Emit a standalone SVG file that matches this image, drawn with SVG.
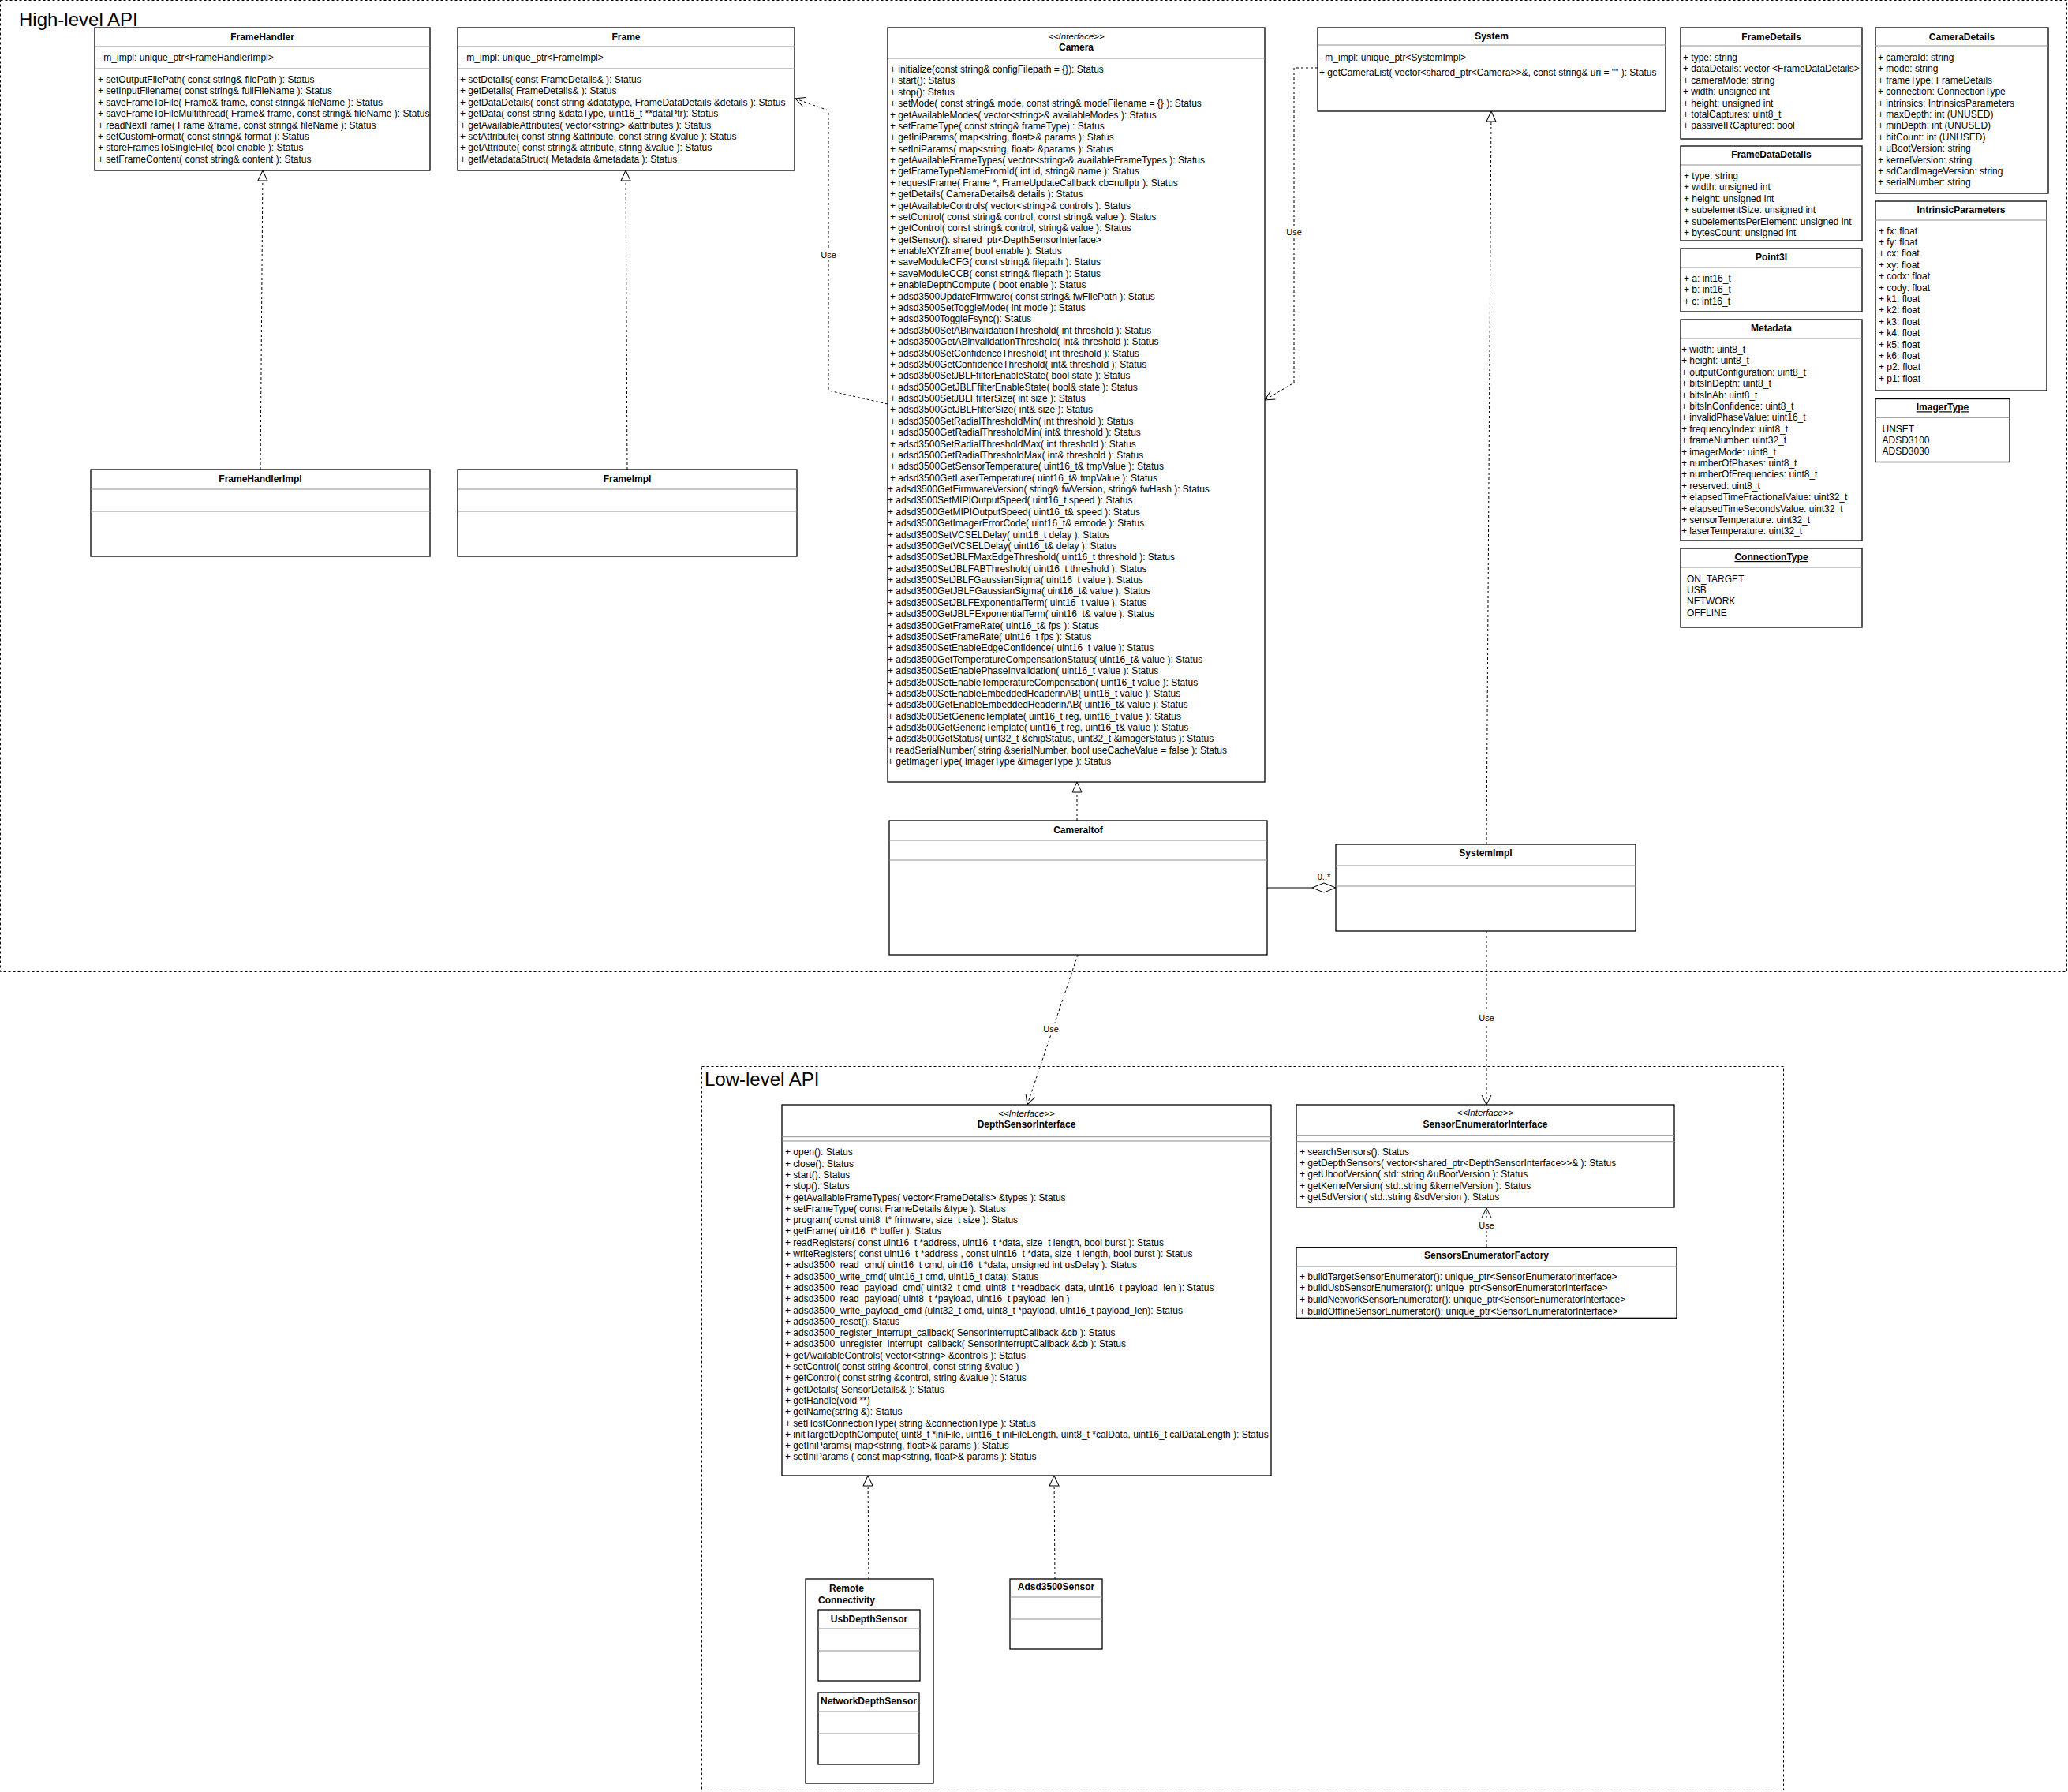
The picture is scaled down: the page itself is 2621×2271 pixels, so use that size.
<svg xmlns="http://www.w3.org/2000/svg" width="2621" height="2271" viewBox="0 0 2621 2271">
<style>
.bg{fill:#fff}
.box{fill:#fff;stroke:#000;stroke-width:1.3}
.sep{stroke:#8f8f8f;stroke-width:1}
.cont{fill:none;stroke:#000;stroke-width:1;stroke-dasharray:3 3}
.t{font-family:"Liberation Sans",Arial,sans-serif;font-size:12px;fill:#000}
.ti{font-family:"Liberation Sans",Arial,sans-serif;font-size:12px;font-weight:bold;text-anchor:middle;fill:#000}
.st{font-family:"Liberation Sans",Arial,sans-serif;font-size:11.5px;font-style:italic;text-anchor:middle;fill:#000}
.big{font-family:"Liberation Sans",Arial,sans-serif;font-size:24px;fill:#000}
.conn{fill:none;stroke:#000;stroke-width:1;stroke-dasharray:3 3}
.solid{fill:none;stroke:#000;stroke-width:1}
.lbl{font-family:"Liberation Sans",Arial,sans-serif;font-size:11px;text-anchor:middle;fill:#000}
.u{text-decoration:underline}
</style>
<defs>
<marker id="tri" markerWidth="16" markerHeight="16" refX="14" refY="7" orient="auto" markerUnits="userSpaceOnUse"><path d="M1,1 L14,7 L1,13 Z" fill="#fff" stroke="#000" stroke-width="1"/></marker>
<marker id="open" markerWidth="16" markerHeight="16" refX="13" refY="7" orient="auto" markerUnits="userSpaceOnUse"><path d="M1,1 L13,7 L1,13" fill="none" stroke="#000" stroke-width="1"/></marker>
</defs>
<rect class="bg" x="0" y="0" width="2621" height="2271"/>

<g id="high-level-api">
<rect class="cont" x="0.5" y="0.5" width="2619" height="1231"/>
<text class="big" x="24" y="33">High-level API</text>
</g>
<g id="low-level-api">
<rect class="cont" x="889.5" y="1351.5" width="1371" height="917"/>
<text class="big" x="893" y="1376">Low-level API</text>
</g>

<g id="connectors">
<path class="conn" d="M330,595 L333,216" marker-end="url(#tri)"/>
<path class="conn" d="M795,595 L793,216" marker-end="url(#tri)"/>
<path class="conn" d="M1125,512 L1050,495 L1050,140 L1008,125" marker-end="url(#open)"/>
<rect class="bg" x="1039" y="316" width="22" height="14"/>
<text class="lbl" x="1050" y="327">Use</text>
<path class="conn" d="M1670,86 L1640,86 L1640,485 L1603,507" marker-end="url(#open)"/>
<rect class="bg" x="1629" y="287" width="22" height="14"/>
<text class="lbl" x="1640" y="298">Use</text>
<path class="conn" d="M1365,1040 L1365,991" marker-end="url(#tri)"/>
<path class="conn" d="M1884,1070 L1890,141" marker-end="url(#tri)"/>
<path class="solid" d="M1606,1125 L1663,1125"/>
<polygon points="1663,1125 1678,1119 1693,1125 1678,1131" fill="#fff" stroke="#000" stroke-width="1"/>
<text class="lbl" x="1678" y="1115">0..*</text>
<path class="conn" d="M1366,1210 L1302,1400" marker-end="url(#open)"/>
<rect class="bg" x="1321" y="1297" width="22" height="14"/>
<text class="lbl" x="1332" y="1308">Use</text>
<path class="conn" d="M1884,1180 L1884,1400" marker-end="url(#open)"/>
<rect class="bg" x="1873" y="1283" width="22" height="14"/>
<text class="lbl" x="1884" y="1294">Use</text>
<path class="conn" d="M1884,1580 L1884,1531" marker-end="url(#open)"/>
<rect class="bg" x="1873" y="1546" width="22" height="14"/>
<text class="lbl" x="1884" y="1557">Use</text>
<path class="conn" d="M1101,2001 L1100,1870" marker-end="url(#tri)"/>
<path class="conn" d="M1337,2001 L1336,1870" marker-end="url(#tri)"/>
</g>

<g id="FrameHandler">
<rect class="box" x="120" y="35" width="425" height="181"/>
<text class="ti" x="332.5" y="51">FrameHandler</text>
<line class="sep" x1="120" y1="59" x2="545" y2="59"/>
<text class="t" x="124" y="77">- m_impl: unique_ptr&lt;FrameHandlerImpl&gt;</text>
<line class="sep" x1="120" y1="87" x2="545" y2="87"/>
<text class="t" x="124" y="105"><tspan x="124" dy="0">+ setOutputFilePath( const string&amp; filePath ): Status</tspan><tspan x="124" dy="14.4">+ setInputFilename( const string&amp; fullFileName ): Status</tspan><tspan x="124" dy="14.4">+ saveFrameToFile( Frame&amp; frame, const string&amp; fileName ): Status</tspan><tspan x="124" dy="14.4">+ saveFrameToFileMultithread( Frame&amp; frame, const string&amp; fileName ): Status</tspan><tspan x="124" dy="14.4">+ readNextFrame( Frame &amp;frame, const string&amp; fileName ): Status</tspan><tspan x="124" dy="14.4">+ setCustomFormat( const string&amp; format ): Status</tspan><tspan x="124" dy="14.4">+ storeFramesToSingleFile( bool enable ): Status</tspan><tspan x="124" dy="14.4">+ setFrameContent( const string&amp; content ): Status</tspan></text>
</g>

<g id="Frame">
<rect class="box" x="580" y="35" width="427" height="181"/>
<text class="ti" x="793.5" y="51">Frame</text>
<line class="sep" x1="580" y1="59" x2="1007" y2="59"/>
<text class="t" x="584" y="77">- m_impl: unique_ptr&lt;FrameImpl&gt;</text>
<line class="sep" x1="580" y1="87" x2="1007" y2="87"/>
<text class="t" x="583" y="105"><tspan x="583" dy="0">+ setDetails( const FrameDetails&amp; ): Status</tspan><tspan x="583" dy="14.4">+ getDetails( FrameDetails&amp; ): Status</tspan><tspan x="583" dy="14.4">+ getDataDetails( const string &amp;datatype, FrameDataDetails &amp;details ): Status</tspan><tspan x="583" dy="14.4">+ getData( const string &amp;dataType, uint16_t **dataPtr): Status</tspan><tspan x="583" dy="14.4">+ getAvailableAttributes( vector&lt;string&gt; &amp;attributes ): Status</tspan><tspan x="583" dy="14.4">+ setAttribute( const string &amp;attribute, const string &amp;value ): Status</tspan><tspan x="583" dy="14.4">+ getAttribute( const string&amp; attribute, string &amp;value ): Status</tspan><tspan x="583" dy="14.4">+ getMetadataStruct( Metadata &amp;metadata ): Status</tspan></text>
</g>

<g id="FrameHandlerImpl">
<rect class="box" x="115" y="595" width="430" height="110"/>
<text class="ti" x="330" y="611">FrameHandlerImpl</text>
<line class="sep" x1="115" y1="620" x2="545" y2="620"/>
<line class="sep" x1="115" y1="648" x2="545" y2="648"/>
</g>

<g id="FrameImpl">
<rect class="box" x="580" y="595" width="430" height="110"/>
<text class="ti" x="795" y="611">FrameImpl</text>
<line class="sep" x1="580" y1="620" x2="1010" y2="620"/>
<line class="sep" x1="580" y1="648" x2="1010" y2="648"/>
</g>

<g id="Camera">
<rect class="box" x="1125" y="35" width="478" height="956"/>
<text class="st" x="1364" y="49.7">&lt;&lt;Interface&gt;&gt;</text>
<text class="ti" x="1364" y="64.3">Camera</text>
<line class="sep" x1="1125" y1="74" x2="1603" y2="74"/>
<text class="t" x="1128" y="92"><tspan x="1128" dy="0">+ initialize(const string&amp; configFilepath = {}): Status</tspan><tspan x="1128" dy="14.38">+ start(): Status</tspan><tspan x="1128" dy="14.38">+ stop(): Status</tspan><tspan x="1128" dy="14.38">+ setMode( const string&amp; mode, const string&amp; modeFilename = {} ): Status</tspan><tspan x="1128" dy="14.38">+ getAvailableModes( vector&lt;string&gt;&amp; availableModes ): Status</tspan><tspan x="1128" dy="14.38">+ setFrameType( const string&amp; frameType) : Status</tspan><tspan x="1128" dy="14.38">+ getIniParams( map&lt;string, float&gt;&amp; params ): Status</tspan><tspan x="1128" dy="14.38">+ setIniParams( map&lt;string, float&gt; &amp;params ): Status</tspan><tspan x="1128" dy="14.38">+ getAvailableFrameTypes( vector&lt;string&gt;&amp; availableFrameTypes ): Status</tspan><tspan x="1128" dy="14.38">+ getFrameTypeNameFromId( int id, string&amp; name ): Status</tspan><tspan x="1128" dy="14.38">+ requestFrame( Frame *, FrameUpdateCallback cb=nullptr ): Status</tspan><tspan x="1128" dy="14.38">+ getDetails( CameraDetails&amp; details ): Status</tspan><tspan x="1128" dy="14.38">+ getAvailableControls( vector&lt;string&gt;&amp; controls ): Status</tspan><tspan x="1128" dy="14.38">+ setControl( const string&amp; control, const string&amp; value ): Status</tspan><tspan x="1128" dy="14.38">+ getControl( const string&amp; control, string&amp; value ): Status</tspan><tspan x="1128" dy="14.38">+ getSensor(): shared_ptr&lt;DepthSensorInterface&gt;</tspan><tspan x="1128" dy="14.38">+ enableXYZframe( bool enable ): Status</tspan><tspan x="1128" dy="14.38">+ saveModuleCFG( const string&amp; filepath ): Status</tspan><tspan x="1128" dy="14.38">+ saveModuleCCB( const string&amp; filepath ): Status</tspan><tspan x="1128" dy="14.38">+ enableDepthCompute ( boot enable ): Status</tspan><tspan x="1128" dy="14.38">+ adsd3500UpdateFirmware( const string&amp; fwFilePath ): Status</tspan><tspan x="1128" dy="14.38">+ adsd3500SetToggleMode( int mode ): Status</tspan><tspan x="1128" dy="14.38">+ adsd3500ToggleFsync(): Status</tspan><tspan x="1128" dy="14.38">+ adsd3500SetABinvalidationThreshold( int threshold ): Status</tspan><tspan x="1128" dy="14.38">+ adsd3500GetABinvalidationThreshold( int&amp; threshold ): Status</tspan><tspan x="1128" dy="14.38">+ adsd3500SetConfidenceThreshold( int threshold ): Status</tspan><tspan x="1128" dy="14.38">+ adsd3500GetConfidenceThreshold( int&amp; threshold ): Status</tspan><tspan x="1128" dy="14.38">+ adsd3500SetJBLFfilterEnableState( bool state ): Status</tspan><tspan x="1128" dy="14.38">+ adsd3500GetJBLFfilterEnableState( bool&amp; state ): Status</tspan><tspan x="1128" dy="14.38">+ adsd3500SetJBLFfilterSize( int size ): Status</tspan><tspan x="1128" dy="14.38">+ adsd3500GetJBLFfilterSize( int&amp; size ): Status</tspan><tspan x="1128" dy="14.38">+ adsd3500SetRadialThresholdMin( int threshold ): Status</tspan><tspan x="1128" dy="14.38">+ adsd3500GetRadialThresholdMin( int&amp; threshold ): Status</tspan><tspan x="1128" dy="14.38">+ adsd3500SetRadialThresholdMax( int threshold ): Status</tspan><tspan x="1128" dy="14.38">+ adsd3500GetRadialThresholdMax( int&amp; threshold ): Status</tspan><tspan x="1128" dy="14.38">+ adsd3500GetSensorTemperature( uint16_t&amp; tmpValue ): Status</tspan><tspan x="1128" dy="14.38">+ adsd3500GetLaserTemperature( uint16_t&amp; tmpValue ): Status</tspan><tspan x="1125" dy="14.38">+ adsd3500GetFirmwareVersion( string&amp; fwVersion, string&amp; fwHash ): Status</tspan><tspan x="1125" dy="14.38">+ adsd3500SetMIPIOutputSpeed( uint16_t speed ): Status</tspan><tspan x="1125" dy="14.38">+ adsd3500GetMIPIOutputSpeed( uint16_t&amp; speed ): Status</tspan><tspan x="1125" dy="14.38">+ adsd3500GetImagerErrorCode( uint16_t&amp; errcode ): Status</tspan><tspan x="1125" dy="14.38">+ adsd3500SetVCSELDelay( uint16_t delay ): Status</tspan><tspan x="1125" dy="14.38">+ adsd3500GetVCSELDelay( uint16_t&amp; delay ): Status</tspan><tspan x="1125" dy="14.38">+ adsd3500SetJBLFMaxEdgeThreshold( uint16_t threshold ): Status</tspan><tspan x="1125" dy="14.38">+ adsd3500SetJBLFABThreshold( uint16_t threshold ): Status</tspan><tspan x="1125" dy="14.38">+ adsd3500SetJBLFGaussianSigma( uint16_t value ): Status</tspan><tspan x="1125" dy="14.38">+ adsd3500GetJBLFGaussianSigma( uint16_t&amp; value ): Status</tspan><tspan x="1125" dy="14.38">+ adsd3500SetJBLFExponentialTerm( uint16_t value ): Status</tspan><tspan x="1125" dy="14.38">+ adsd3500GetJBLFExponentialTerm( uint16_t&amp; value ): Status</tspan><tspan x="1125" dy="14.38">+ adsd3500GetFrameRate( uint16_t&amp; fps ): Status</tspan><tspan x="1125" dy="14.38">+ adsd3500SetFrameRate( uint16_t fps ): Status</tspan><tspan x="1125" dy="14.38">+ adsd3500SetEnableEdgeConfidence( uint16_t value ): Status</tspan><tspan x="1125" dy="14.38">+ adsd3500GetTemperatureCompensationStatus( uint16_t&amp; value ): Status</tspan><tspan x="1125" dy="14.38">+ adsd3500SetEnablePhaseInvalidation( uint16_t value ): Status</tspan><tspan x="1125" dy="14.38">+ adsd3500SetEnableTemperatureCompensation( uint16_t value ): Status</tspan><tspan x="1125" dy="14.38">+ adsd3500SetEnableEmbeddedHeaderinAB( uint16_t value ): Status</tspan><tspan x="1125" dy="14.38">+ adsd3500GetEnableEmbeddedHeaderinAB( uint16_t&amp; value ): Status</tspan><tspan x="1125" dy="14.38">+ adsd3500SetGenericTemplate( uint16_t reg, uint16_t value ): Status</tspan><tspan x="1125" dy="14.38">+ adsd3500GetGenericTemplate( uint16_t reg, uint16_t&amp; value ): Status</tspan><tspan x="1125" dy="14.38">+ adsd3500GetStatus( uint32_t &amp;chipStatus, uint32_t &amp;imagerStatus ): Status</tspan><tspan x="1125" dy="14.38">+ readSerialNumber( string &amp;serialNumber, bool useCacheValue = false ): Status</tspan><tspan x="1125" dy="14.38">+ getImagerType( ImagerType &amp;imagerType ): Status</tspan></text>
</g>

<g id="System">
<rect class="box" x="1670" y="35" width="441" height="106"/>
<text class="ti" x="1890.5" y="50.3">System</text>
<line class="sep" x1="1670" y1="57" x2="2111" y2="57"/>
<text class="t" x="1672" y="77">- m_impl: unique_ptr&lt;SystemImpl&gt;</text>
<text class="t" x="1672" y="96">+ getCameraList( vector&lt;shared_ptr&lt;Camera&gt;&gt;&amp;, const string&amp; uri = "" ): Status</text>
</g>

<g id="FrameDetails">
<rect class="box" x="2130" y="35" width="230" height="141"/>
<text class="ti" x="2245" y="50.8">FrameDetails</text>
<line class="sep" x1="2130" y1="58" x2="2360" y2="58"/>
<text class="t" x="2133" y="77"><tspan x="2133" dy="0">+ type: string</tspan><tspan x="2133" dy="14.4">+ dataDetails: vector &lt;FrameDataDetails&gt;</tspan><tspan x="2133" dy="14.4">+ cameraMode: string</tspan><tspan x="2133" dy="14.4">+ width: unsigned int</tspan><tspan x="2133" dy="14.4">+ height: unsigned int</tspan><tspan x="2133" dy="14.4">+ totalCaptures: uint8_t</tspan><tspan x="2133" dy="14.4">+ passiveIRCaptured: bool</tspan></text>
</g>

<g id="CameraDetails">
<rect class="box" x="2377" y="35" width="219" height="210"/>
<text class="ti" x="2486.5" y="50.8">CameraDetails</text>
<line class="sep" x1="2377" y1="58" x2="2596" y2="58"/>
<text class="t" x="2380" y="77"><tspan x="2380" dy="0">+ cameraId: string</tspan><tspan x="2380" dy="14.4">+ mode: string</tspan><tspan x="2380" dy="14.4">+ frameType: FrameDetails</tspan><tspan x="2380" dy="14.4">+ connection: ConnectionType</tspan><tspan x="2380" dy="14.4">+ intrinsics: IntrinsicsParameters</tspan><tspan x="2380" dy="14.4">+ maxDepth: int (UNUSED)</tspan><tspan x="2380" dy="14.4">+ minDepth: int (UNUSED)</tspan><tspan x="2380" dy="14.4">+ bitCount: int (UNUSED)</tspan><tspan x="2380" dy="14.4">+ uBootVersion: string</tspan><tspan x="2380" dy="14.4">+ kernelVersion: string</tspan><tspan x="2380" dy="14.4">+ sdCardImageVersion: string</tspan><tspan x="2380" dy="14.4">+ serialNumber: string</tspan></text>
</g>

<g id="FrameDataDetails">
<rect class="box" x="2130" y="185" width="230" height="120"/>
<text class="ti" x="2245" y="200">FrameDataDetails</text>
<line class="sep" x1="2130" y1="209" x2="2360" y2="209"/>
<text class="t" x="2134" y="227"><tspan x="2134" dy="0">+ type: string</tspan><tspan x="2134" dy="14.4">+ width: unsigned int</tspan><tspan x="2134" dy="14.4">+ height: unsigned int</tspan><tspan x="2134" dy="14.4">+ subelementSize: unsigned int</tspan><tspan x="2134" dy="14.4">+ subelementsPerElement: unsigned int</tspan><tspan x="2134" dy="14.4">+ bytesCount: unsigned int</tspan></text>
</g>

<g id="Point3I">
<rect class="box" x="2130" y="315" width="230" height="80"/>
<text class="ti" x="2245" y="330">Point3I</text>
<line class="sep" x1="2130" y1="339" x2="2360" y2="339"/>
<text class="t" x="2134" y="357"><tspan x="2134" dy="0">+ a: int16_t</tspan><tspan x="2134" dy="14.4">+ b: int16_t</tspan><tspan x="2134" dy="14.4">+ c: int16_t</tspan></text>
</g>

<g id="Metadata">
<rect class="box" x="2130" y="405" width="230" height="280"/>
<text class="ti" x="2245" y="420">Metadata</text>
<line class="sep" x1="2130" y1="429" x2="2360" y2="429"/>
<text class="t" x="2131" y="447"><tspan x="2131" dy="0">+ width: uint8_t</tspan><tspan x="2131" dy="14.4">+ height: uint8_t</tspan><tspan x="2131" dy="14.4">+ outputConfiguration: uint8_t</tspan><tspan x="2131" dy="14.4">+ bitsInDepth: uint8_t</tspan><tspan x="2131" dy="14.4">+ bitsInAb: uint8_t</tspan><tspan x="2131" dy="14.4">+ bitsInConfidence: uint8_t</tspan><tspan x="2131" dy="14.4">+ invalidPhaseValue: uint16_t</tspan><tspan x="2131" dy="14.4">+ frequencyIndex: uint8_t</tspan><tspan x="2131" dy="14.4">+ frameNumber: uint32_t</tspan><tspan x="2131" dy="14.4">+ imagerMode: uint8_t</tspan><tspan x="2131" dy="14.4">+ numberOfPhases: uint8_t</tspan><tspan x="2131" dy="14.4">+ numberOfFrequencies: uint8_t</tspan><tspan x="2131" dy="14.4">+ reserved: uint8_t</tspan><tspan x="2131" dy="14.4">+ elapsedTimeFractionalValue: uint32_t</tspan><tspan x="2131" dy="14.4">+ elapsedTimeSecondsValue: uint32_t</tspan><tspan x="2131" dy="14.4">+ sensorTemperature: uint32_t</tspan><tspan x="2131" dy="14.4">+ laserTemperature: uint32_t</tspan></text>
</g>

<g id="ConnectionType">
<rect class="box" x="2130" y="695" width="230" height="100"/>
<text class="ti u" x="2245" y="710">ConnectionType</text>
<line class="sep" x1="2130" y1="719" x2="2360" y2="719"/>
<text class="t" x="2138" y="737.6"><tspan x="2138" dy="0">ON_TARGET</tspan><tspan x="2138" dy="14.4">USB</tspan><tspan x="2138" dy="14.4">NETWORK</tspan><tspan x="2138" dy="14.4">OFFLINE</tspan></text>
</g>

<g id="IntrinsicParameters">
<rect class="box" x="2377" y="255" width="217" height="240"/>
<text class="ti" x="2485.5" y="270">IntrinsicParameters</text>
<line class="sep" x1="2377" y1="279" x2="2594" y2="279"/>
<text class="t" x="2381" y="296.6"><tspan x="2381" dy="0">+ fx: float</tspan><tspan x="2381" dy="14.4">+ fy: float</tspan><tspan x="2381" dy="14.4">+ cx: float</tspan><tspan x="2381" dy="14.4">+ xy: float</tspan><tspan x="2381" dy="14.4">+ codx: float</tspan><tspan x="2381" dy="14.4">+ cody: float</tspan><tspan x="2381" dy="14.4">+ k1: float</tspan><tspan x="2381" dy="14.4">+ k2: float</tspan><tspan x="2381" dy="14.4">+ k3: float</tspan><tspan x="2381" dy="14.4">+ k4: float</tspan><tspan x="2381" dy="14.4">+ k5: float</tspan><tspan x="2381" dy="14.4">+ k6: float</tspan><tspan x="2381" dy="14.4">+ p2: float</tspan><tspan x="2381" dy="14.4">+ p1: float</tspan></text>
</g>

<g id="ImagerType">
<rect class="box" x="2377" y="505.5" width="170" height="80"/>
<text class="ti u" x="2462" y="520.3">ImagerType</text>
<line class="sep" x1="2377" y1="529.3" x2="2547" y2="529.3"/>
<text class="t" x="2385.5" y="547.6"><tspan x="2385.5" dy="0">UNSET</tspan><tspan x="2385.5" dy="14.4">ADSD3100</tspan><tspan x="2385.5" dy="14.4">ADSD3030</tspan></text>
</g>

<g id="CameraItof">
<rect class="box" x="1127" y="1040" width="479" height="170"/>
<text class="ti" x="1366.5" y="1056">CameraItof</text>
<line class="sep" x1="1127" y1="1065" x2="1606" y2="1065"/>
<line class="sep" x1="1127" y1="1090" x2="1606" y2="1090"/>
</g>

<g id="SystemImpl">
<rect class="box" x="1693" y="1070" width="380" height="110"/>
<text class="ti" x="1883" y="1085">SystemImpl</text>
<line class="sep" x1="1693" y1="1097" x2="2073" y2="1097"/>
<line class="sep" x1="1693" y1="1123" x2="2073" y2="1123"/>
</g>

<g id="DepthSensorInterface">
<rect class="box" x="991" y="1400" width="620" height="470"/>
<text class="st" x="1301" y="1415">&lt;&lt;Interface&gt;&gt;</text>
<text class="ti" x="1301" y="1429.3">DepthSensorInterface</text>
<line class="sep" x1="991" y1="1440.7" x2="1611" y2="1440.7"/>
<line class="sep" x1="991" y1="1446" x2="1611" y2="1446"/>
<text class="t" x="995" y="1464.3"><tspan x="995" dy="0">+ open(): Status</tspan><tspan x="995" dy="14.3">+ close(): Status</tspan><tspan x="995" dy="14.3">+ start(): Status</tspan><tspan x="995" dy="14.3">+ stop(): Status</tspan><tspan x="995" dy="14.3">+ getAvailableFrameTypes( vector&lt;FrameDetails&gt; &amp;types ): Status</tspan><tspan x="995" dy="14.3">+ setFrameType( const FrameDetails &amp;type ): Status</tspan><tspan x="995" dy="14.3">+ program( const uint8_t* frimware, size_t size ): Status</tspan><tspan x="995" dy="14.3">+ getFrame( uint16_t* buffer ): Status</tspan><tspan x="995" dy="14.3">+ readRegisters( const uint16_t *address, uint16_t *data, size_t length, bool burst ): Status</tspan><tspan x="995" dy="14.3">+ writeRegisters( const uint16_t *address , const uint16_t *data, size_t length, bool burst ): Status</tspan><tspan x="995" dy="14.3">+ adsd3500_read_cmd( uint16_t cmd, uint16_t *data, unsigned int usDelay ): Status</tspan><tspan x="995" dy="14.3">+ adsd3500_write_cmd( uint16_t cmd, uint16_t data): Status</tspan><tspan x="995" dy="14.3">+ adsd3500_read_payload_cmd( uint32_t cmd, uint8_t *readback_data, uint16_t payload_len ): Status</tspan><tspan x="995" dy="14.3">+ adsd3500_read_payload( uint8_t *payload, uint16_t payload_len )</tspan><tspan x="995" dy="14.3">+ adsd3500_write_payload_cmd (uint32_t cmd, uint8_t *payload, uint16_t payload_len): Status</tspan><tspan x="995" dy="14.3">+ adsd3500_reset(): Status</tspan><tspan x="995" dy="14.3">+ adsd3500_register_interrupt_callback( SensorInterruptCallback &amp;cb ): Status</tspan><tspan x="995" dy="14.3">+ adsd3500_unregister_interrupt_callback( SensorInterruptCallback &amp;cb ): Status</tspan><tspan x="995" dy="14.3">+ getAvailableControls( vector&lt;string&gt; &amp;controls ): Status</tspan><tspan x="995" dy="14.3">+ setControl( const string &amp;control, const string &amp;value )</tspan><tspan x="995" dy="14.3">+ getControl( const string &amp;control, string &amp;value ): Status</tspan><tspan x="995" dy="14.3">+ getDetails( SensorDetails&amp; ): Status</tspan><tspan x="995" dy="14.3">+ getHandle(void **)</tspan><tspan x="995" dy="14.3">+ getName(string &amp;): Status</tspan><tspan x="995" dy="14.3">+ setHostConnectionType( string &amp;connectionType ): Status</tspan><tspan x="995" dy="14.3">+ initTargetDepthCompute( uint8_t *iniFile, uint16_t iniFileLength, uint8_t *calData, uint16_t calDataLength ): Status</tspan><tspan x="995" dy="14.3">+ getIniParams( map&lt;string, float&gt;&amp; params ): Status</tspan><tspan x="995" dy="14.3">+ setIniParams ( const map&lt;string, float&gt;&amp; params ): Status</tspan></text>
</g>

<g id="SensorEnumeratorInterface">
<rect class="box" x="1643" y="1400" width="479" height="130"/>
<text class="st" x="1882.5" y="1414.3">&lt;&lt;Interface&gt;&gt;</text>
<text class="ti" x="1882.5" y="1429.3">SensorEnumeratorInterface</text>
<line class="sep" x1="1643" y1="1439.3" x2="2122" y2="1439.3"/>
<line class="sep" x1="1643" y1="1446.7" x2="2122" y2="1446.7"/>
<text class="t" x="1647" y="1463.6"><tspan x="1647" dy="0">+ searchSensors(): Status</tspan><tspan x="1647" dy="14.35">+ getDepthSensors( vector&lt;shared_ptr&lt;DepthSensorInterface&gt;&gt;&amp; ): Status</tspan><tspan x="1647" dy="14.35">+ getUbootVersion( std::string &amp;uBootVersion ): Status</tspan><tspan x="1647" dy="14.35">+ getKernelVersion( std::string &amp;kernelVersion ): Status</tspan><tspan x="1647" dy="14.35">+ getSdVersion( std::string &amp;sdVersion ): Status</tspan></text>
</g>

<g id="SensorsEnumeratorFactory">
<rect class="box" x="1643" y="1580.7" width="482" height="89.6"/>
<text class="ti" x="1884" y="1595">SensorsEnumeratorFactory</text>
<line class="sep" x1="1643" y1="1605" x2="2125" y2="1605"/>
<text class="t" x="1647" y="1621.6"><tspan x="1647" dy="0">+ buildTargetSensorEnumerator(): unique_ptr&lt;SensorEnumeratorInterface&gt;</tspan><tspan x="1647" dy="14.7">+ buildUsbSensorEnumerator(): unique_ptr&lt;SensorEnumeratorInterface&gt;</tspan><tspan x="1647" dy="14.7">+ buildNetworkSensorEnumerator(): unique_ptr&lt;SensorEnumeratorInterface&gt;</tspan><tspan x="1647" dy="14.7">+ buildOfflineSensorEnumerator(): unique_ptr&lt;SensorEnumeratorInterface&gt;</tspan></text>
</g>

<g id="RemoteConnectivity">
<rect class="box" x="1021" y="2001" width="162" height="259"/>
<text class="ti" x="1073" y="2017.3">Remote</text>
<text class="ti" x="1073" y="2032">Connectivity</text>
</g>

<g id="UsbDepthSensor">
<rect class="box" x="1037" y="2040" width="129" height="90"/>
<text class="ti" x="1101.5" y="2056">UsbDepthSensor</text>
<line class="sep" x1="1037" y1="2064" x2="1166" y2="2064"/>
<line class="sep" x1="1037" y1="2092" x2="1166" y2="2092"/>
</g>

<g id="NetworkDepthSensor">
<rect class="box" x="1037" y="2145" width="128" height="91"/>
<text class="ti" x="1101" y="2160">NetworkDepthSensor</text>
<line class="sep" x1="1037" y1="2169" x2="1165" y2="2169"/>
<line class="sep" x1="1037" y1="2197" x2="1165" y2="2197"/>
</g>

<g id="Adsd3500Sensor">
<rect class="box" x="1280" y="2001" width="117" height="89"/>
<text class="ti" x="1338.5" y="2015.3">Adsd3500Sensor</text>
<line class="sep" x1="1280" y1="2024" x2="1397" y2="2024"/>
<line class="sep" x1="1280" y1="2052" x2="1397" y2="2052"/>
</g>
</svg>
